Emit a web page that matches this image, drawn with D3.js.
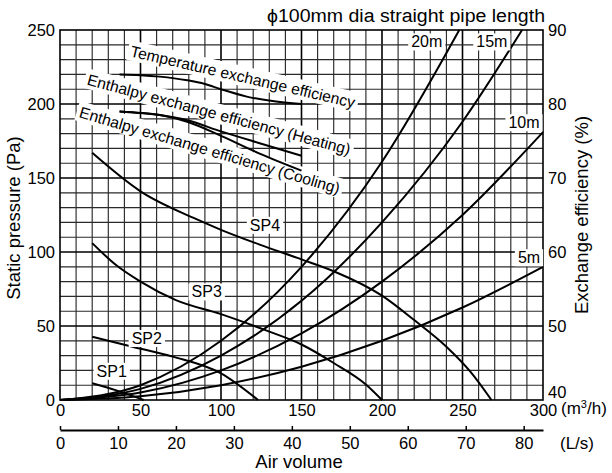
<!DOCTYPE html>
<html>
<head>
<meta charset="utf-8">
<script src="https://cdn.jsdelivr.net/npm/d3@7"></script>
<style>
  body { margin: 0; background: #fff; }
  svg { font-family: "Liberation Sans", Arial, sans-serif; }
</style>
</head>
<body>
<div id="chart"></div>
<script>
// Tick labels
var flowTicks = [0, 50, 100, 150, 200, 250, 300]          // m3/h
var litreTicks = [0, 10, 20, 30, 40, 50, 60, 70, 80]       // L/s
var pressureTicks = [0, 50, 100, 150, 200, 250]           // Pa
var efficiencyTicks = [40, 50, 60, 70, 80, 90]            // %

// Duct resistance curves, [air volume m3/h, static pressure Pa]
var pipeNames = ["5m", "10m", "15m", "20m"]
var pipe5m = [[0, 0], [50, 2.5], [100, 10], [150, 22.5], [200, 40], [250, 62.5], [300, 90]]
var pipe10m = [[0, 0], [50, 5], [100, 20], [150, 45], [200, 80], [250, 125], [300, 181]]
var pipe15m = [[0, 0], [50, 7.5], [100, 30], [150, 67], [200, 120], [250, 188], [287, 250]]
var pipe20m = [[0, 0], [50, 10], [100, 40], [150, 90], [200, 161], [248, 250]]

// Fan curves, [air volume m3/h, static pressure Pa]
var fanNames = ["SP1", "SP2", "SP3", "SP4"]
var sp1 = [[20, 11.3], [35, 6.5], [52, 0]]
var sp2 = [[20, 42.8], [45, 36], [70, 29.3], [100, 18], [123, 0]]
var sp3 = [[20, 106], [35, 91], [50, 80], [72, 67.5], [100, 58], [128, 47], [150, 37.5], [170, 25], [190, 10.5], [200, 0]]
var sp4 = [[20, 167], [50, 141], [83, 123], [100, 115], [124, 105], [150, 95], [170, 87], [200, 70.5], [220, 54], [240, 36], [255, 19], [268, 0]]

// Efficiency curves, [air volume m3/h, efficiency %]
var effNames = ["Temperature exchange efficiency", "Enthalpy exchange efficiency (Heating)", "Enthalpy exchange efficiency (Cooling)"]
var tempEff = [[37, 84.0], [50, 83.9], [62, 83.7], [79, 83.2], [90, 82.7], [100, 82.0], [116, 81.0], [132, 80.4], [150, 80.0]]
var heatEff = [[37, 79.0], [50, 78.8], [62, 78.5], [79, 77.8], [100, 76.3], [124, 74.7], [150, 73.0]]
var coolEff = [[37, 79.0], [50, 78.8], [62, 78.5], [79, 77.6], [100, 75.7], [124, 73.3], [150, 71.0]]

// Chart dimensions
var width = 612
var height = 473
var plotL = 60, plotR = 543, plotT = 30, plotB = 400

var svg = d3.select('#chart')
            .append('svg')
            .attr('width', width)
            .attr('height', height)

svg.append('rect').attr('width', width).attr('height', height).attr('fill', '#fff')

// Scales
var xScale = d3.scaleLinear().domain([0, 300]).range([plotL, plotR])
var xLitre = d3.scaleLinear().domain([0, 300 / 3.6]).range([plotL, plotR])
var yScale = d3.scaleLinear().domain([0, 250]).range([plotB, plotT])
var yEff = d3.scaleLinear().domain([40, 90]).range([plotB, plotT])

// Grid (every 10 m3/h and every 10 Pa, heavier every 50)
var grid = svg.append('g')
grid.selectAll('.vgrid')
    .data(d3.range(10, 300, 10))
    .enter()
    .append('line')
    .attr('x1', (d) => xScale(d)).attr('x2', (d) => xScale(d))
    .attr('y1', plotT).attr('y2', plotB)
    .attr('stroke', (d) => d % 50 == 0 ? '#000' : '#2a2a2a')
    .attr('stroke-width', (d) => d % 50 == 0 ? 1.6 : 1.15)
grid.selectAll('.hgrid')
    .data(d3.range(10, 250, 10))
    .enter()
    .append('line')
    .attr('y1', (d) => yScale(d)).attr('y2', (d) => yScale(d))
    .attr('x1', plotL).attr('x2', plotR)
    .attr('stroke', (d) => d % 50 == 0 ? '#000' : '#2a2a2a')
    .attr('stroke-width', (d) => d % 50 == 0 ? 1.6 : 1.15)

svg.append('rect')
    .attr('x', plotL).attr('y', plotT)
    .attr('width', plotR - plotL).attr('height', plotB - plotT)
    .attr('fill', 'none').attr('stroke', '#000').attr('stroke-width', 1.6)

// Label helper: white box behind text
function boxedLabel (parent, text, x, y, angle, size) {
    var g = parent.append('g').attr('transform', 'translate(' + x + ',' + y + ') rotate(' + angle + ')')
    var rect = g.append('rect').attr('fill', '#fff')
    var t = g.append('text')
             .attr('font-size', size)
             .attr('fill', '#000')
             .text(text)
    return { g: g, rect: rect, t: t }
}

// Efficiency labels: white boxes under the curves, text drawn again on top later
var effLabelPos = [[43.2, 232.3, 13], [16.3, 213.2, 15], [11.4, 191.2, 16.5]]
var effBoxes = svg.append('g')
effNames.forEach((name, i) => {
    var p = effLabelPos[i]
    var lab = boxedLabel(effBoxes, name, xScale(p[0]), yScale(p[1]), p[2], 15.7)
    var bb = lab.t.node().getBBox()
    lab.rect.attr('x', bb.x - 3).attr('y', bb.y - 2).attr('width', bb.width + 6).attr('height', bb.height + 3)
    lab.t.remove()
})

// Curves
var line = d3.line()
             .x((d) => xScale(d[0]))
             .y((d) => yScale(d[1]))
             .curve(d3.curveMonotoneX)
var effLine = d3.line()
             .x((d) => xScale(d[0]))
             .y((d) => yEff(d[1]))
             .curve(d3.curveMonotoneX)

var curves = svg.append('g').attr('fill', 'none').attr('stroke', '#000').attr('stroke-width', 2)
;[pipe5m, pipe10m, pipe15m, pipe20m, sp1, sp2, sp3, sp4].forEach((c) => {
    curves.append('path').attr('d', line(c))
})
;[tempEff, heatEff, coolEff].forEach((c) => {
    curves.append('path').attr('d', effLine(c))
})

// Efficiency label text
var effText = svg.append('g')
effNames.forEach((name, i) => {
    var p = effLabelPos[i]
    var lab = boxedLabel(effText, name, xScale(p[0]), yScale(p[1]), p[2], 15.7)
    lab.rect.remove()
})

// Curve name labels
var pipeLabelPos = [[291.3, 96.3], [288.2, 187.5], [268.2, 242.1], [227.8, 242.1]]
var fanLabelPos = [[32.1, 19.6], [53.9, 41.7], [91.1, 73.2], [127.3, 118.2]]
var names = svg.append('g')
function centredLabel (text, q, p) {
    var lab = boxedLabel(names, text, xScale(q), yScale(p), 0, 16)
    lab.t.attr('text-anchor', 'middle').attr('dy', '0.36em')
    var bb = lab.t.node().getBBox()
    lab.rect.attr('x', bb.x - 3).attr('y', bb.y).attr('width', bb.width + 6).attr('height', bb.height)
}
pipeNames.forEach((n, i) => centredLabel(n, pipeLabelPos[i][0], pipeLabelPos[i][1]))
fanNames.forEach((n, i) => centredLabel(n, fanLabelPos[i][0], fanLabelPos[i][1]))

// Axes
var fontSize = 16.5
var leftAxis = svg.append('g')
                  .attr('transform', 'translate(' + plotL + ',0)')
                  .call(d3.axisLeft(yScale).tickValues(pressureTicks).tickSize(0).tickPadding(5))
var rightAxis = svg.append('g')
                  .attr('transform', 'translate(' + plotR + ',0)')
                  .call(d3.axisRight(yEff).tickValues(efficiencyTicks).tickSize(0).tickPadding(5))
rightAxis.selectAll('.tick text').filter((d) => d == 40).attr('dy', '-0.18em')
var flowAxis = svg.append('g')
                  .attr('transform', 'translate(0,' + plotB + ')')
                  .call(d3.axisBottom(xScale).tickValues(flowTicks).tickSize(0).tickPadding(4))
var litreAxis = svg.append('g')
                  .attr('transform', 'translate(0,430)')
                  .call(d3.axisBottom(xLitre).tickValues(litreTicks).tickSizeInner(-4).tickSizeOuter(0).tickPadding(7))
litreAxis.select('.domain').attr('stroke-width', 1.8)
litreAxis.selectAll('.tick line').attr('stroke-width', 1.5)

;[leftAxis, rightAxis, flowAxis].forEach((a) => a.select('.domain').remove())
;[leftAxis, rightAxis, flowAxis, litreAxis].forEach((a) => {
    a.attr('font-family', null)
    a.selectAll('text').attr('font-size', fontSize).attr('fill', '#000')
})

// Axis titles
svg.append('text')
    .attr('transform', 'translate(20,218) rotate(-90)')
    .attr('text-anchor', 'middle')
    .attr('font-size', 18.5)
    .text('Static pressure (Pa)')
svg.append('text')
    .attr('transform', 'translate(588,215) rotate(-90)')
    .attr('text-anchor', 'middle')
    .attr('font-size', 18.5)
    .text('Exchange efficiency (%)')
svg.append('text')
    .attr('x', 299).attr('y', 468)
    .attr('text-anchor', 'middle')
    .attr('font-size', 18.5)
    .text('Air volume')
var unit = svg.append('text')
    .attr('x', 561).attr('y', 414)
    .attr('font-size', 17)
unit.append('tspan').text('(m')
unit.append('tspan').attr('font-size', 11).attr('dy', -6).text('3')
unit.append('tspan').attr('dy', 6).text('/h)')
svg.append('text')
    .attr('x', 560).attr('y', 449)
    .attr('font-size', 17)
    .text('(L/s)')

// Title
svg.append('text')
    .attr('x', 267).attr('y', 21.5)
    .attr('font-size', 18)
    .attr('textLength', 278)
    .attr('lengthAdjust', 'spacingAndGlyphs')
    .text('\u03d5100mm dia straight pipe length')
</script>
</body>
</html>
